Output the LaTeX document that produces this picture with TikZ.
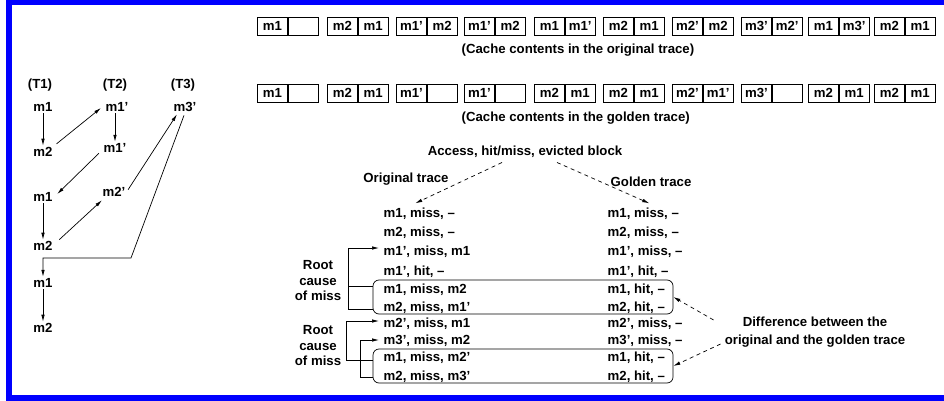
\documentclass[tikz,border=0pt]{standalone}
\usepackage{fontspec}
\setmainfont{Liberation Sans}
\usetikzlibrary{arrows.meta,calc}

% one cache set: a pair of adjacent cells
\newcommand\cachepair[5]{%
  \node[cell, minimum width=30pt] (#1l) at (#2,#3) {#4};
  \node[cell, minimum width=30pt] (#1r) at (#1l.east) {#5};
}

\begin{document}
\begin{tikzpicture}[x=1pt,y=-1pt,
  every node/.style={font=\fontsize{13.2}{15.5}\selectfont\bfseries, inner sep=1.5pt},
  trc/.style={anchor=west, text height=9.5pt, text depth=2.5pt},
  cell/.style={draw, line width=0.8pt, minimum height=18pt, inner sep=0pt, anchor=west},
  arr/.style={-{Latex[length=7pt,width=3.5pt]}, line width=0.7pt},
  dasharr/.style={arr, dash pattern=on 4pt off 3.5pt},
  diffbox/.style={draw, rounded corners=6pt, minimum width=300pt, minimum height=34pt, line width=0.7pt},
]
\useasboundingbox (0,0) rectangle (944,401);
\draw[blue, line width=6pt] (9,2) rectangle (960,398);

% ---- threads and their accesses ----
\node (t1) at (40,85) {(T1)};
\node (t2) at (115,85) {(T2)};
\node (t3) at (183,85) {(T3)};
\node (a1) at (43,107) {m1};
\node (a2) at (43,152) {m2};
\node (a3) at (43,197) {m1};
\node (a4) at (43,246) {m2};
\node (a5) at (43,283) {m1};
\node (a6) at (43,328) {m2};
\node (b1) at (117,107) {m1'};
\node (b2) at (115,148) {m1'};
\node (b3) at (114,192) {m2'};
\node (c1) at (185,107) {m3'};

\draw[arr] (a1) -- (a2);
\draw[arr] (a3) -- (a4);
\draw[arr] (a5) -- (a6);
\draw[arr] (b1.south -| b2) -- (b2);
\draw[arr, shorten <=3pt] (a2.north east) -- ([shift={(-3,1)}]b1.west);
\draw[arr] ([shift={(-3,-1)}]b2.south west) -- ([shift={(3,-3)}]a3.east);
\draw[arr] ([shift={(5,0)}]a4.north east) -- ([shift={(1,2)}]b3.south west);
\draw[arr] ([shift={(1,4)}]b3.north east) -- ([shift={(5,1)}]c1.south west);
\draw[arr] ([shift={(-1,2)}]c1.south) -- (131,258) -| (a5.north);

% ---- cache contents ----
\cachepair{oa}{257}{26}{m1}{}
\cachepair{ob}{327}{26}{m2}{m1}
\cachepair{oc}{396}{26}{m1'}{m2}
\cachepair{od}{464}{26}{m1'}{m2}
\cachepair{oe}{534}{26}{m1}{m1'}
\cachepair{of}{603}{26}{m2}{m1}
\cachepair{og}{672}{26}{m2'}{m2}
\cachepair{oh}{741}{26}{m3'}{m2'}
\cachepair{oi}{808}{26}{m1}{m3'}
\cachepair{oj}{874}{26}{m2}{m1}
\node[anchor=west] (cap1) at (460,50) {(Cache contents in the original trace)};

\cachepair{ga}{257}{93}{m1}{}
\cachepair{gb}{327}{93}{m2}{m1}
\cachepair{gc}{396}{93}{m1'}{}
\cachepair{gd}{464}{93}{m1'}{}
\cachepair{ge}{534}{93}{m2}{m1}
\cachepair{gf}{603}{93}{m2}{m1}
\cachepair{gg}{672}{93}{m2'}{m1'}
\cachepair{gh}{741}{93}{m3'}{}
\cachepair{gi}{808}{93}{m2}{m1}
\cachepair{gj}{874}{93}{m2}{m1}
\node[anchor=west] (cap2) at (460,118) {(Cache contents in the golden trace)};

% ---- traces ----
\node (acc) at (525,152) {Access, hit/miss, evicted block};
\node (olab) at (406,179) {Original trace};
\node (glab) at (651,182) {Golden trace};

\node[trc] (o1)  at (382,214) {m1, miss, --};
\node[trc] (o2)  at (382,233) {m2, miss, --};
\node[trc] (o3)  at (382,252) {m1', miss, m1};
\node[trc] (o4)  at (382,272) {m1', hit, --};
\node[trc] (o5)  at (382,290) {m1, miss, m2};
\node[trc] (o6)  at (382,308) {m2, miss, m1'};
\node[trc] (o7)  at (382,324) {m2', miss, m1};
\node[trc] (o8)  at (382,341) {m3', miss, m2};
\node[trc] (o9)  at (382,358) {m1, miss, m2'};
\node[trc] (o10) at (382,377) {m2, miss, m3'};

\node[trc] (g1)  at (606,214) {m1, miss, --};
\node[trc] (g2)  at (606,233) {m2, miss, --};
\node[trc] (g3)  at (606,252) {m1', miss, --};
\node[trc] (g4)  at (606,272) {m1', hit, --};
\node[trc] (g5)  at (606,290) {m1, hit, --};
\node[trc] (g6)  at (606,308) {m2, hit, --};
\node[trc] (g7)  at (606,324) {m2', miss, --};
\node[trc] (g8)  at (606,341) {m3', miss, --};
\node[trc] (g9)  at (606,358) {m1, hit, --};
\node[trc] (g10) at (606,377) {m2, hit, --};

\node[diffbox] (d1) at (523,297) {};
\node[diffbox] (d2) at (523,366) {};

\draw[dasharr] ([shift={(-23,3)}]acc.south) -- ([shift={(-4,-3)}]o1.north);
\draw[dasharr] ([shift={(32,3)}]acc.south) -- ([shift={(6,-3)}]g1.north);

% ---- root causes ----
\node[align=center] (r1) at (318,281) {Root\\cause\\of miss};
\node[align=center] (r2) at (318,346) {Root\\cause\\of miss};

\draw[arr] ([shift={(0,12)}]d1.west) -- (348,309) |- ([shift={(-3,-4)}]o3.west);
\draw[line width=0.7pt] ([shift={(0,-11)}]d1.west) -- (348,286);
\draw[arr] ([shift={(0,-6)}]d2.west) -- (346,360) |- ([shift={(-3,-3)}]o7.west);
\draw[arr] ([shift={(0,11)}]d2.west) -- (360,377) |- ([shift={(-3,-1)}]o8.west);

% ---- differences ----
\node[align=center, font=\fontsize{13.2}{18}\selectfont\bfseries] (diff) at (815,332)
  {Difference between the\\original and the golden trace};
\draw[dasharr] ([shift={(-9.5,-12)}]diff.west) -- (d1.east);
\draw[dasharr] ([shift={(-2.5,12)}]diff.west) -- (d2.east);
\end{tikzpicture}
\end{document}
